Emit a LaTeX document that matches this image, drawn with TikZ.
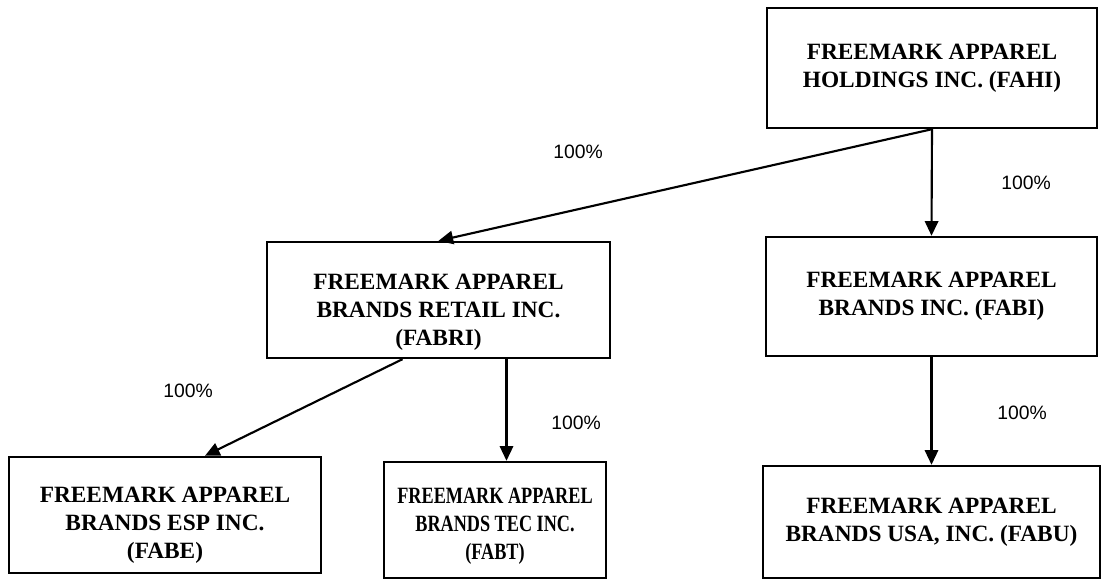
\documentclass[tikz,border=0pt]{standalone}
\usepackage{fontspec}
\setmainfont{Liberation Serif}
\newfontfamily\labelfont{Liberation Sans}
\newfontfamily\narrowserif[FakeStretch=0.78]{Liberation Serif}
\usetikzlibrary{arrows.meta}

\tikzset{
    entity/.style={draw, line width=1.8pt, inner sep=0pt},
    entityname/.style={align=center, inner sep=0pt,
        font=\bfseries\fontsize{17.5}{21}\selectfont},
    share/.style={font=\labelfont\fontsize{14.5}{17}\selectfont},
    owns/.style={line width=1.6pt, -{Triangle[length=11pt,width=10pt]}}
}

\begin{document}
\begin{tikzpicture}[x=0.75pt,y=-0.75pt]
        \useasboundingbox (0,0) rectangle (1104,584);
        % companies
        \node[entity, minimum width=247.5pt, minimum height=90pt] (fahi) at (932,68) {};
        \node[entityname] (fahi-name) at (fahi.center)
            {FREEMARK APPAREL\\HOLDINGS INC. (FAHI)};
        \node[entity, minimum width=257.25pt, minimum height=87pt] (fabri) at (438.5,300) {};
        \node[entityname] (fabri-name) at ([yshift=-9pt]fabri.center)
            {FREEMARK APPAREL\\BRANDS RETAIL INC.\\(FABRI)};
        \node[entity, minimum width=248.25pt, minimum height=89.25pt] (fabi) at (931.5,296.5) {};
        \node[entityname] (fabi-name) at (fabi.center)
            {FREEMARK APPAREL\\BRANDS INC. (FABI)};
        \node[entity, minimum width=234pt, minimum height=87pt] (fabe) at (165,515) {};
        \node[entityname] (fabe-name) at ([yshift=-8pt]fabe.center)
            {FREEMARK APPAREL\\BRANDS ESP INC.\\(FABE)};
        \node[entity, minimum width=166.5pt, minimum height=87pt] (fabt) at (495,520) {};
        \node[entityname, font=\narrowserif\bfseries\fontsize{17.5}{21}\selectfont] (fabt-name)
            at ([yshift=-5pt]fabt.center)
            {FREEMARK APPAREL\\BRANDS TEC INC.\\(FABT)};
        \node[entity, minimum width=252.75pt, minimum height=84pt] (fabu) at (931.5,522) {};
        \node[entityname] (fabu-name) at (fabu.center)
            {FREEMARK APPAREL\\BRANDS USA, INC. (FABU)};
        % ownership
        \draw[owns] (fahi.south) -- (fabi.north);
        \draw[owns] (fahi.south) -- (fabri.north);
        \draw[owns] (fabi.south) -- (fabu.north);
        \draw[owns] ([xshift=-27pt]fabri.south) -- ([xshift=30pt]fabe.north);
        \draw[owns] ([xshift=51pt]fabri.south) coordinate (tec) -- (tec |- fabt.north);
        \foreach \sub/\X/\Y in {fabri/578/152, fabi/1026/183, fabe/188/391, fabt/576/423, fabu/1022/413}
            {\node[share] (\sub-pct) at (\X,\Y) {100\%};}
    \end{tikzpicture}
\end{document}
